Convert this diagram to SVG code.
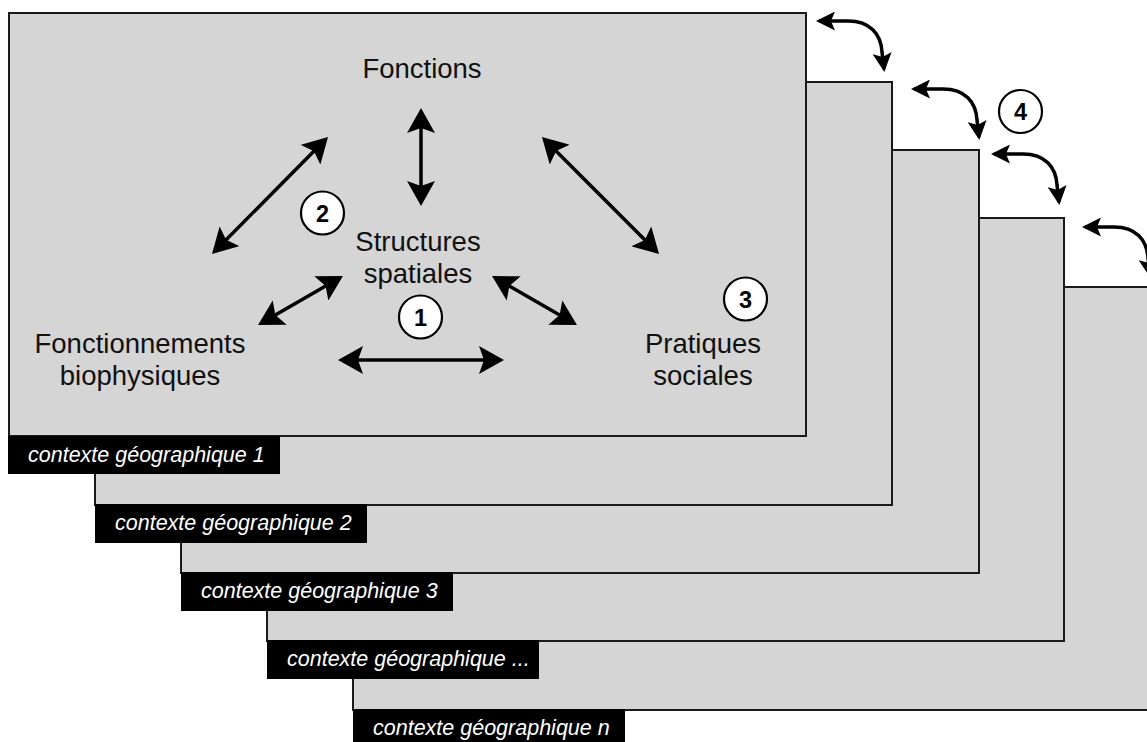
<svg xmlns="http://www.w3.org/2000/svg" width="1147" height="742" viewBox="0 0 1147 742">
<style>
.panel{fill:#d5d5d5;stroke:#1a1a1a;stroke-width:2}
.tag{fill:#000}
.tagtxt{fill:#fff;font-family:"Liberation Sans",Arial,sans-serif;font-style:italic;font-size:21.5px}
.lbl{fill:#111;font-family:"Liberation Sans",Arial,sans-serif;font-size:27.5px;text-anchor:middle}
.num circle{fill:#fff;stroke:#000;stroke-width:2.2}
.num text{fill:#000;font-family:"Liberation Sans",Arial,sans-serif;font-weight:bold;font-size:23.5px;text-anchor:middle}
.arr{fill:none;stroke:#000;stroke-width:3.5;marker-start:url(#ah);marker-end:url(#ah)}
.carr{fill:none;stroke:#000;stroke-width:3.5;marker-start:url(#ahs);marker-end:url(#ahs)}
</style>
<defs>
<marker id="ah" viewBox="0 0 25 28" markerUnits="userSpaceOnUse" markerWidth="25" markerHeight="28" refX="21" refY="14" orient="auto-start-reverse">
<path d="M0,0 L25,14 L0,28 L5,14 Z" fill="#000"/>
</marker>
<marker id="ahs" viewBox="0 0 19 19" markerUnits="userSpaceOnUse" markerWidth="19" markerHeight="19" refX="16" refY="9.5" orient="auto-start-reverse">
<path d="M0,0 L19,9.5 L0,19 L4,9.5 Z" fill="#000"/>
</marker>
</defs>
<rect width="1147" height="742" fill="#fff"/>
<g id="context-n">
<rect class="panel" x="353" y="287" width="820" height="423"/>
<rect class="tag" x="353" y="709" width="272" height="40"/>
<text class="tagtxt" x="373" y="735">contexte géographique n</text>
</g>
<g id="context-dots">
<rect class="panel" x="267" y="218" width="797" height="423"/>
<rect class="tag" x="267" y="640" width="272" height="39"/>
<text class="tagtxt" x="287" y="666">contexte géographique ...</text>
</g>
<g id="context-3">
<rect class="panel" x="181" y="150" width="798" height="423"/>
<rect class="tag" x="181" y="572" width="272" height="39"/>
<text class="tagtxt" x="201" y="598">contexte géographique 3</text>
</g>
<g id="context-2">
<rect class="panel" x="95" y="82" width="797" height="423"/>
<rect class="tag" x="95" y="504" width="272" height="39"/>
<text class="tagtxt" x="115" y="530">contexte géographique 2</text>
</g>
<g id="context-1">
<rect class="panel" x="9" y="13" width="797" height="423"/>
<rect class="tag" x="8" y="436" width="272" height="38"/>
<text class="tagtxt" x="28" y="462">contexte géographique 1</text>
</g>
<g id="node-fonctions"><text class="lbl" x="422" y="78">Fonctions</text></g>
<g id="node-structures"><text class="lbl" x="418" y="251">Structures<tspan x="418" y="283">spatiales</tspan></text></g>
<g id="node-fonctionnements"><text class="lbl" x="140" y="353">Fonctionnements<tspan x="140" y="385">biophysiques</tspan></text></g>
<g id="node-pratiques"><text class="lbl" x="703" y="353">Pratiques<tspan x="703" y="385">sociales</tspan></text></g>
<g id="badge-1" class="num"><circle cx="420.5" cy="317" r="21.5"/><text x="420.5" y="325.5">1</text></g>
<g id="badge-2" class="num"><circle cx="322.5" cy="213" r="21.5"/><text x="322.5" y="221.5">2</text></g>
<g id="badge-3" class="num"><circle cx="745.5" cy="299" r="21.5"/><text x="745.5" y="307.5">3</text></g>
<g id="badge-4" class="num"><circle cx="1020.5" cy="111.5" r="21.5"/><text x="1020.5" y="120">4</text></g>
<g id="connectors">
<path class="arr" d="M421,112 L421,202"/>
<path class="arr" d="M214.8,251.2 L325.2,139.8"/>
<path class="arr" d="M544.8,139.8 L656.2,251.2"/>
<path class="arr" d="M261.5,323 L339.5,278"/>
<path class="arr" d="M495.5,278 L573.5,323"/>
<path class="arr" d="M342,360 L500,360"/>
<path class="carr" d="M819,21 l29,0 c22,0 33,13 34,31 l2,17"/>
<path class="carr" d="M914,89 l29,0 c22,0 33,13 34,31 l2,17"/>
<path class="carr" d="M994,154 l29,0 c22,0 33,13 34,31 l2,17"/>
<path class="carr" d="M1085,227 l29,0 c22,0 33,13 34,31 l2,17"/>
</g>
</svg>
